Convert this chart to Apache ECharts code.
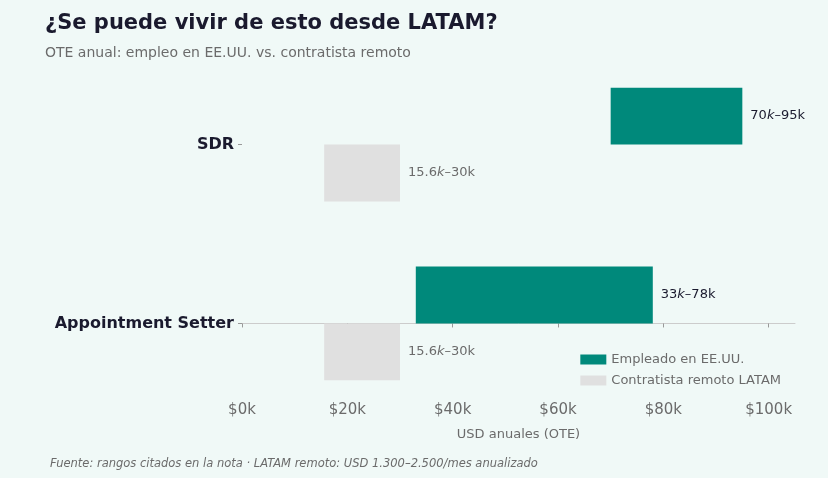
<!DOCTYPE html>
<html><head><meta charset="utf-8">
<script src="https://cdn.jsdelivr.net/npm/echarts@6/dist/echarts.min.js"></script>
<style>html,body{margin:0;padding:0;background:#f0f9f7}#c{width:828px;height:478px}</style>
</head><body><div id="c"></div>
<script>
var categories = ['Appointment Setter', 'SDR'];
var empLow = [33, 70];
var empHigh = [78, 95];
var conLow = [15.6, 15.6];
var conHigh = [30, 30];
var empLabels = ['33{i|k}–78k', '70{i|k}–95k'];
var conLabels = ['15.6{i|k}–30k', '15.6{i|k}–30k'];
var xTicks = [0, 20, 40, 60, 80, 100];

var BH = 0.318;
function rangeSeries(name, lo, hi, labels, off, color, textColor) {
    return {
        name: name,
        type: 'custom',
        itemStyle: { color: color },
        data: lo.map(function (v, i) { return [v, hi[i], i]; }),
        renderItem: function (params, api) {
            var y = api.value(2) + off;
            var p1 = api.coord([api.value(0), y + BH]);
            var p2 = api.coord([api.value(1), y]);
            return {
                type: 'group',
                children: [
                    { type: 'rect', shape: { x: p1[0], y: p1[1], width: p2[0] - p1[0], height: p2[1] - p1[1] }, style: { fill: color } },
                    { type: 'text', x: p2[0] + 8, y: (p1[1] + p2[1]) / 2,
                      style: { text: labels[params.dataIndex], fill: textColor, font: '13px DejaVu Sans', verticalAlign: 'middle',
                               rich: { i: { fontStyle: 'italic', fontSize: 13, fontFamily: 'DejaVu Sans', fill: textColor } } } }
                ]
            };
        }
    };
}

var chart = echarts.init(document.getElementById('c'));
chart.setOption({
    backgroundColor: '#f0f9f7',
    textStyle: { fontFamily: 'DejaVu Sans' },
    title: {
        text: '¿Se puede vivir de esto desde LATAM?',
        subtext: 'OTE anual: empleo en EE.UU. vs. contratista remoto',
        left: 40, top: 8,
        textStyle: { fontSize: 21, fontWeight: 'bold', color: '#1a1a2e' },
        subtextStyle: { fontSize: 14, color: '#6b6b6b' },
        itemGap: 12
    },
    legend: {
        orient: 'vertical', right: 42, top: 348, itemWidth: 26, itemHeight: 10, itemGap: 8,
        icon: 'rect',
        textStyle: { fontSize: 13, color: '#6b6b6b' },
        data: ['Empleado en EE.UU.', 'Contratista remoto LATAM']
    },
    graphic: [{ type: 'text', left: 50, top: 458,
        style: { text: 'Fuente: rangos citados en la nota · LATAM remoto: USD 1.300–2.500/mes anualizado', fill: '#6b6b6b', font: 'italic 11.5px DejaVu Sans' } }],
    grid: { left: 242, right: 33, top: 73, bottom: 83 },
    xAxis: {
        type: 'value', min: 0, max: 105,
        name: 'USD anuales (OTE)', nameLocation: 'middle', nameGap: 33,
        nameTextStyle: { fontSize: 13, color: '#6b6b6b' },
        splitLine: { show: false },
        axisLine: { show: true, lineStyle: { color: '#cccccc' } },
        axisTick: { show: true, length: 4, lineStyle: { color: '#999' }, customValues: xTicks },
        axisLabel: { fontSize: 15, color: '#6b6b6b', customValues: xTicks, formatter: function (v) { return '$' + v + 'k'; } }
    },
    yAxis: {
        type: 'value', min: -0.4, max: 1.4,
        splitLine: { show: false },
        axisLine: { show: false },
        axisTick: { show: true, length: 4, lineStyle: { color: '#999' }, customValues: [0, 1] },
        axisLabel: { fontSize: 16, fontWeight: 'bold', color: '#1a1a2e', margin: 8, customValues: [0, 1],
            formatter: function (v) { return categories[Math.round(v)]; } }
    },
    series: [
        rangeSeries('Empleado en EE.UU.', empLow, empHigh, empLabels, 0, '#00897b', '#1a1a2e'),
        rangeSeries('Contratista remoto LATAM', conLow, conHigh, conLabels, -BH, '#e0e0e0', '#6b6b6b')
    ]
});
</script></body></html>
